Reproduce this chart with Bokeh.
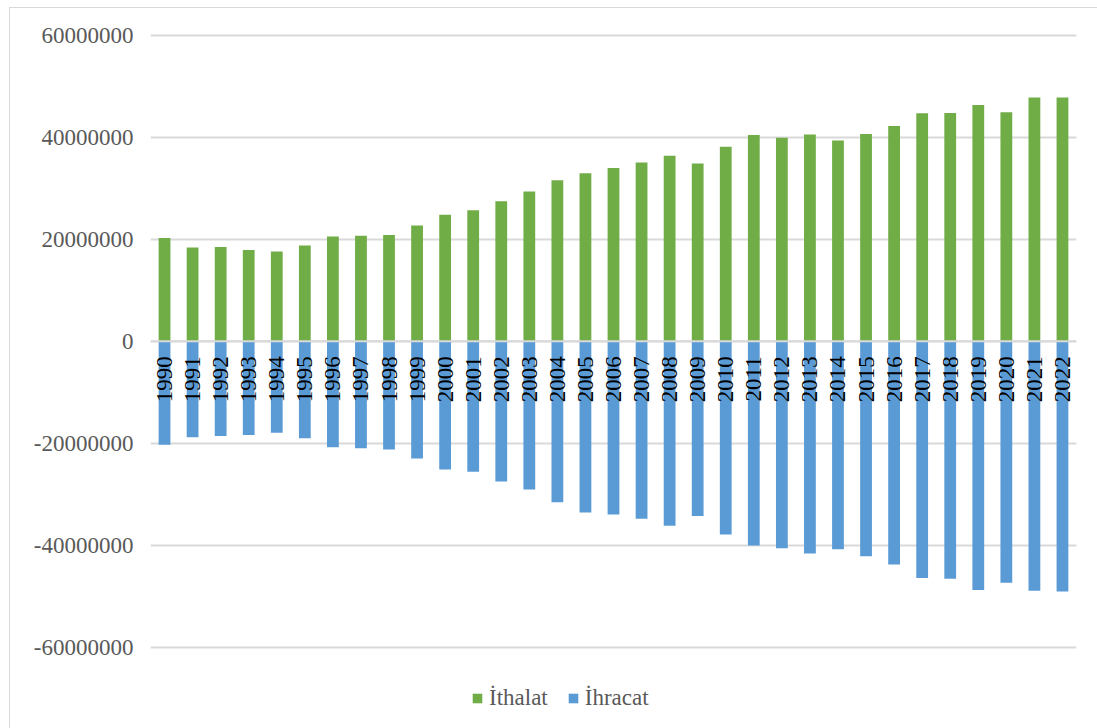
import math
from bokeh.plotting import figure
from bokeh.models import (ColumnDataSource, FixedTicker, PrintfTickFormatter,
                          Legend, LegendItem, Span)
from bokeh.core.properties import value
from bokeh.embed import file_html
from bokeh.resources import INLINE

# Yearly imports (positive) and exports (drawn negative)
years = [str(y) for y in range(1990, 2023)]
ithalat = [20.26, 18.43, 18.49, 17.90, 17.64, 18.82, 20.59, 20.73, 20.85, 22.75,
           24.86, 25.70, 27.50, 29.40, 31.60, 33.00, 34.00, 35.10, 36.40, 34.90,
           38.20, 40.47, 39.93, 40.61, 39.39, 40.68, 42.24, 44.75, 44.81, 46.37,
           44.95, 47.86, 47.86]
ihracat = [-20.32, -18.80, -18.60, -18.40, -17.96, -19.00, -20.77, -20.96, -21.24, -23.00,
           -25.17, -25.60, -27.50, -29.10, -31.60, -33.60, -34.00, -34.80, -36.20, -34.30,
           -37.90, -40.07, -40.61, -41.63, -40.81, -42.17, -43.80, -46.44, -46.58, -48.81,
           -47.39, -48.95, -49.08]
y_ticks = [-60000000, -40000000, -20000000, 0, 20000000, 40000000, 60000000]

src = ColumnDataSource(dict(
    year=years,
    imp=[v * 1e6 for v in ithalat],
    exp=[v * 1e6 for v in ihracat],
    zero=[0] * len(years),
))

FONT = "'Liberation Serif', 'Times New Roman', Times, serif"
GREEN = "#70AD47"
BLUE = "#5B9BD5"
GRID = "#d9d9d9"

# the lower part of the range leaves room for the legend under the -60M line
p = figure(
    x_range=years, y_range=(-75e6, 61e6),
    width=1088, height=721,
    output_backend="svg", toolbar_location=None,
    min_border_left=140, min_border_right=22,
    min_border_top=22, min_border_bottom=6,
    outline_line_color=None,
)
p.margin = (7, 0, 0, 9)
p.styles = {"border-top": "1px solid #d9d9d9", "border-left": "1px solid #d9d9d9"}

r_imp = p.vbar(x="year", top="imp", bottom=0, width=0.42, source=src,
               fill_color=GREEN, line_color=None)
r_exp = p.vbar(x="year", top=0, bottom="exp", width=0.42, source=src,
               fill_color=BLUE, line_color=None)

# zero line across the bars
p.add_layout(Span(location=0, dimension="width", line_color=GRID,
                  line_width=2, level="overlay"))

# year labels, vertical, hanging below the zero line
p.text(x="year", y="zero", text="year", source=src, angle=math.pi / 2,
       text_align="right", text_baseline="middle", y_offset=15,
       text_font=value(FONT), text_font_size="23px", text_color="black")

p.xaxis.visible = False
p.xgrid.grid_line_color = None
p.ygrid.grid_line_color = GRID
p.ygrid.grid_line_width = 2

ya = p.yaxis[0]
ya.ticker = FixedTicker(ticks=y_ticks)
ya.formatter = PrintfTickFormatter(format="%d")
ya.axis_line_color = None
ya.major_tick_line_color = None
ya.minor_tick_line_color = None
ya.major_tick_out = 0
ya.major_label_standoff = 17
ya.major_label_text_font = FONT
ya.major_label_text_font_size = "23px"
ya.major_label_text_color = "#595959"

legend = Legend(
    items=[LegendItem(label="İthalat", renderers=[r_imp]),
           LegendItem(label="İhracat", renderers=[r_exp])],
    orientation="horizontal", location=(321, 12),
    glyph_width=12, glyph_height=12, label_standoff=6, spacing=19,
    padding=0, margin=0, border_line_color=None, background_fill_alpha=0,
    label_text_font=FONT, label_text_font_size="23px", label_text_color="#595959",
)
p.add_layout(legend, "center")

open("out.html", "w").write(file_html(p, INLINE))
